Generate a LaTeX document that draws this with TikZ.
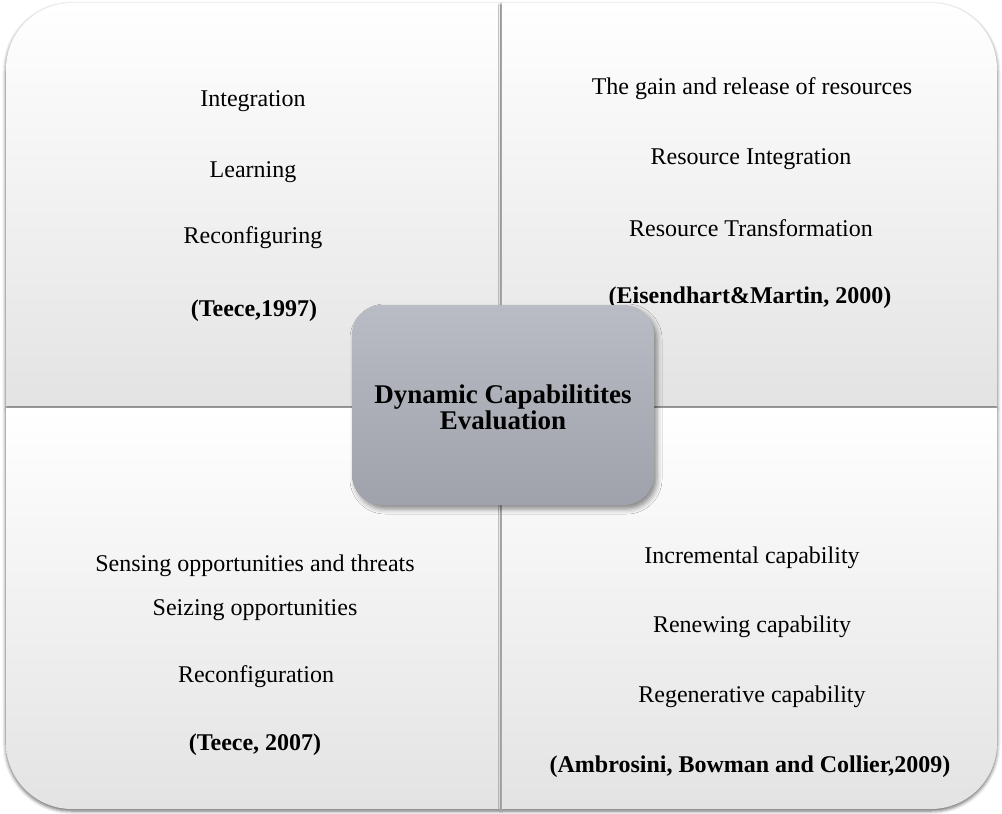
\documentclass[tikz,border=0pt]{standalone}
\usepackage{fontspec}
\setmainfont{Liberation Serif}
\usetikzlibrary{shadows.blur}

\definecolor{panelTop}{HTML}{FFFFFF}
\definecolor{panelBot}{HTML}{E3E3E3}
\definecolor{hubTop}{HTML}{B9BCC4}
\definecolor{hubBot}{HTML}{9FA2AA}

\tikzset{
  panel/.style={draw=none, top color=panelTop, bottom color=panelBot,
    blur shadow={shadow xshift=0pt, shadow yshift=-2pt, shadow blur radius=3.5pt, shadow opacity=60}},
  hub/.style={draw=none, top color=hubTop, bottom color=hubBot,
    blur shadow={shadow xshift=3pt, shadow yshift=-4pt, shadow blur radius=5pt, shadow opacity=45}},
  item/.style={font=\fontsize{24}{28}\selectfont, inner sep=0pt, anchor=center},
  cite/.style={item, font=\fontsize{24}{28}\selectfont\bfseries},
  title/.style={font=\fontsize{27}{26}\selectfont\bfseries, align=center, inner sep=0pt}
}

\begin{document}
\begin{tikzpicture}[x=1pt, y=-1pt]
  \useasboundingbox (0,0) rectangle (1002,814);

  % four quadrants, each with one rounded outer corner
  \path[panel] (500,406) -- (6,406) [rounded corners=66pt] -- (6,3) [sharp corners] -- (500,3) -- cycle;
  \path[panel] (502,406) -- (502,3) [rounded corners=66pt] -- (997,3) [sharp corners] -- (997,406) -- cycle;
  \path[panel] (500,408) -- (6,408) [rounded corners=66pt] -- (6,809) [sharp corners] -- (500,809) -- cycle;
  \path[panel] (502,408) -- (502,809) [rounded corners=66pt] -- (997,809) [sharp corners] -- (997,408) -- cycle;

  % top left
  \node[item] (tl1) at (253,101) {Integration};
  \node[item] (tl2) at (253,172) {Learning};
  \node[item] (tl3) at (253,238) {Reconfiguring};
  \node[cite] (tl4) at (254,311) {(Teece,1997)};

  % top right
  \node[item] (tr1) at (752,89) {The gain and release of resources};
  \node[item] (tr2) at (751,159) {Resource Integration};
  \node[item] (tr3) at (751,228) {Resource Transformation};
  \node[cite] (tr4) at (750,298) {(Eisendhart\&Martin, 2000)};

  % bottom left
  \node[item] (bl1) at (255,566) {Sensing opportunities and threats};
  \node[item] (bl2) at (255,610) {Seizing opportunities};
  \node[item] (bl3) at (256,677) {Reconfiguration};
  \node[cite] (bl4) at (255,745) {(Teece, 2007)};

  % bottom right
  \node[item] (br1) at (752,558) {Incremental capability};
  \node[item] (br2) at (752,627) {Renewing capability};
  \node[item] (br3) at (752,697) {Regenerative capability};
  \node[cite] (br4) at (750,767) {(Ambrosini, Bowman and Collier,2009)};

  % central hub
  \path[hub, rounded corners=30pt] (352,305) rectangle (654,505);
  \node[title] (hub) at (503,407) {Dynamic Capabilitites\\Evaluation};
\end{tikzpicture}
\end{document}
